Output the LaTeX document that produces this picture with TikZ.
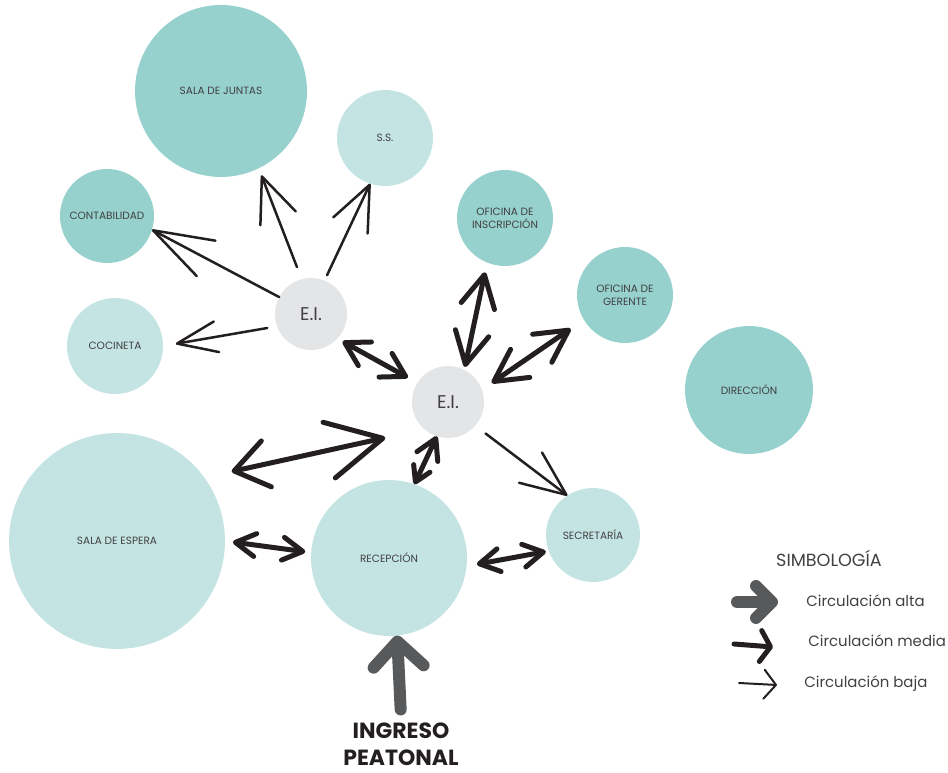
\documentclass[tikz,border=0pt]{standalone}
\usepackage{fontspec}
\setmainfont{Poppins}
\usepackage{xcolor}
\usepackage{tikz}
\usetikzlibrary{arrows.meta}

\definecolor{tealOscuro}{HTML}{97D1CE}
\definecolor{tealClaro}{HTML}{C4E4E3}
\definecolor{grisEI}{HTML}{E4E5E7}
\definecolor{texto}{HTML}{414042}
\definecolor{tinta}{HTML}{231F20}
\definecolor{grisFlecha}{HTML}{58595B}

\begin{document}
\begin{tikzpicture}[
    x=0.02cm, y=-0.02cm,
    espacio/.style={circle, inner sep=0pt, outer sep=0pt, minimum size=#1*0.04cm, align=center, text=texto, font=\fontsize{6}{7.5}\selectfont},
    oscuro/.style={espacio=#1, fill=tealOscuro},
    claro/.style={espacio=#1, fill=tealClaro},
    ei/.style={espacio=36, fill=grisEI, font=\fontsize{10.5}{12}\selectfont},
    baja/.style={draw=tinta, line width=0.05cm, line cap=round, line join=round},
    media/.style={draw=tinta, line width=0.1cm, line cap=round, line join=round},
    alta/.style={draw=grisFlecha, line width=0.24cm, line cap=round, line join=round},
    leyenda/.style={anchor=west, inner sep=0pt, text=texto, font=\fontsize{8.5}{10}\selectfont},
    puntaBaja/.tip={Straight Barb[length=0.9cm, width=0.76cm, round]},
    puntaBajaLarga/.tip={Straight Barb[length=1.2cm, width=0.8cm, round]},
    puntaBajaCorta/.tip={Straight Barb[length=0.8cm, width=0.62cm, round]},
    puntaMedia/.tip={Straight Barb[length=0.64cm, width=0.68cm, round]},
    puntaCorta/.tip={Straight Barb[length=0.46cm, width=0.54cm, round]},
    puntaChica/.tip={Straight Barb[length=0.4cm, width=0.46cm, round]},
    puntaMini/.tip={Straight Barb[length=0.3cm, width=0.36cm, round]},
    puntaAncha/.tip={Straight Barb[length=0.66cm, width=0.94cm, round]},
    puntaGrande/.tip={Straight Barb[length=1.1cm, width=1.14cm, round]},
    puntaAlta/.tip={Straight Barb[length=0.5cm, width=1.0cm, round]},
    puntaAltaLey/.tip={Straight Barb[length=0.32cm, width=0.64cm, round]},
    puntaMediaLey/.tip={Straight Barb[length=0.2cm, width=0.62cm, round]},
    puntaBajaLey/.tip={Straight Barb[length=0.24cm, width=0.58cm, round]},
]
\useasboundingbox (0,0) rectangle (948,773);

% espacios
\node[oscuro=86] (juntas) at (221,91) {SALA DE JUNTAS};
\node[claro=48] (ss) at (385,138) {S.S.};
\node[oscuro=47] (conta) at (107,216) {CONTABILIDAD};
\node[claro=48] (cocina) at (115,346) {COCINETA};
\node[ei] (ei1) at (311,314) {E.I.};
\node[ei] (ei2) at (448,402) {E.I.};
\node[oscuro=48] (inscr) at (505,218) {OFICINA DE\\INSCRIPCIÓN};
\node[oscuro=48] (gerente) at (625,295) {OFICINA DE\\GERENTE};
\node[oscuro=64] (direccion) at (749,390) {DIRECCIÓN};
\node[claro=108] (espera) at (117,541) {SALA DE ESPERA};
\node[claro=78] (recep) at (389,558) {RECEPCIÓN};
\node[claro=47] (secre) at (593,535) {SECRETARÍA};

% circulacion baja
\draw[baja, -puntaBajaLarga] (ei1.152) -- (conta.-17);
\draw[baja, -puntaBaja, shorten <=0.26cm, shorten >=0.15cm] (ei1.105) -- (juntas.-64);
\draw[baja, -puntaBaja, shorten <=0.12cm] (ei1.68) -- (ss.-108);
\draw[baja, -puntaBajaCorta, shorten <=0.2cm, shorten >=0.26cm] (ei1.200) -- (cocina.0);
\draw[baja, -puntaBaja, shorten <=0.26cm] (ei2.-41) -- (secre.123);

% circulacion media
\draw[media, puntaCorta-puntaCorta, shorten <=0.12cm, shorten >=0.22cm] (ei1.-43) -- (ei2.148);
\draw[media, puntaMedia-puntaMedia, shorten <=0.06cm, shorten >=0.2cm] (ei2.63) -- (inscr.-112);
\draw[media, puntaMedia-puntaMedia, shorten <=0.24cm, shorten >=0.32cm] (ei2.20) -- (gerente.-149);
\draw[media, puntaGrande-puntaAncha, shorten <=0.8cm, shorten >=0.56cm] (ei2.229) -- (espera.36);
\draw[media, puntaChica-puntaMini] (ei2.252) -- (recep.71);
\draw[media, puntaChica-puntaChica, shorten <=0.16cm, shorten >=0.12cm] (espera.0) -- (recep.176);
\draw[media, puntaChica-puntaChica, shorten <=0.21cm, shorten >=0.06cm] (recep.-6) -- (secre.200);

% ingreso
\node[align=center, text=tinta, font=\bfseries\fontsize{12.5}{15.3}\selectfont] (ingreso) at (401,744) {INGRESO\\PEATONAL};
\draw[alta, -puntaAlta, shorten <=0.14cm] (ingreso.north) -- (recep.-84);

% simbologia
\node[text=texto, font=\fontsize{10}{12}\selectfont] (simbologia) at (829,558) {SIMBOLOGÍA};
\node[leyenda] (txtAlta) at (806,601) {Circulación alta};
\node[leyenda] (txtMedia) at (808,641) {Circulación media};
\node[leyenda] (txtBaja) at (804,684) {Circulación baja};
\coordinate (altaIni) at (737,602);
\coordinate (altaFin) at (778,602);
\coordinate (mediaIni) at (734,644);
\coordinate (mediaFin) at (773,647);
\coordinate (bajaIni) at (739,683);
\coordinate (bajaFin) at (777,685);
\draw[alta, -puntaAltaLey] (altaIni) -- (altaFin);
\draw[media, -puntaMediaLey] (mediaIni) -- (mediaFin);
\draw[baja, line width=0.04cm, -puntaBajaLey] (bajaIni) -- (bajaFin);

\end{tikzpicture}
\end{document}
